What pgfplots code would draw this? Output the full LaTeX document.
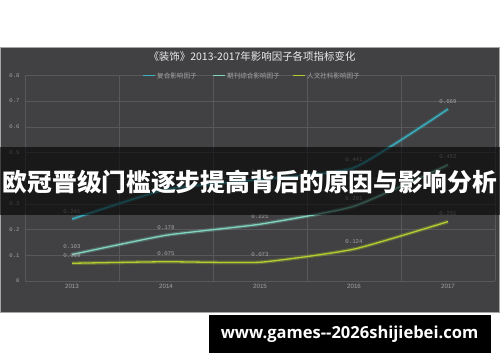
\documentclass[border=0pt]{standalone}
\usepackage{pgfplots}
\usepackage{pgfplotstable}
\pgfplotsset{compat=1.18}
\usepackage{fontspec}
\setmainfont{Liberation Sans}
\newfontfamily\cjk{Noto Sans CJK SC}
\newfontfamily\monof{Liberation Mono}
\newfontfamily\webf{Open Sans}
\definecolor{panel}{RGB}{65,64,66}
\definecolor{gridc}{RGB}{88,87,90}
\definecolor{labgray}{RGB}{165,165,165}
\definecolor{cA}{RGB}{56,178,192}
\definecolor{cB}{RGB}{130,214,192}
\definecolor{cC}{RGB}{178,206,48}
\pgfplotstableread{
x y lab
0 0.241 0.241
1 0.356 0.356
2 0.395 0.395
3 0.441 0.441
4 0.669 0.669
}\dataA
\pgfplotstableread{
x y lab
0 0.103 0.103
1 0.178 0.178
2 0.221 0.221
3 0.291 0.291
4 0.452 0.452
}\dataB
\pgfplotstableread{
x y lab
0 0.069 0.069
1 0.075 0.075
2 0.073 0.073
3 0.124 0.124
4 0.231 0.231
}\dataC
\begin{document}
\begin{tikzpicture}[x=1bp,y=1bp]
\fill[white] (0,0) rectangle (500,362);
\fill[panel] (0,49.5) rectangle (500,315);
\draw[gray!70,line width=0.8bp] (0.4,49.5) rectangle (499.6,315);
\begin{axis}[
  at={(25bp,81bp)}, anchor=south west,
  scale only axis, width=470bp, height=205.6bp,
  xmin=-0.5, xmax=4.5, ymin=0, ymax=0.8,
  axis line style={draw=none},
  xtick={0,1,2,3,4}, xticklabels={2013,2014,2015,2016,2017},
  minor xtick={-0.5,0.5,1.5,2.5,3.5,4.5},
  xminorgrids=true, ymajorgrids=true,
  ytick={0,0.1,0.2,0.3,0.4,0.5,0.6,0.7,0.8},
  yticklabels={0,0.1,0.2,0.3,0.4,0.5,0.6,0.7,0.8},
  major tick length=0, minor tick length=0,
  grid style={gridc, line width=0.6bp},
  minor grid style={gridc, line width=0.6bp},
  xticklabel style={font=\fontsize{6.2}{7}\selectfont, text=labgray},
  yticklabel style={font=\monof\fontsize{5.6}{6}\selectfont, text=labgray, xshift=-2bp},
  clip=false,
]
\addplot[draw=cA, line width=3.8bp, opacity=0.28, smooth, tension=0.3, forget plot] table[x=x,y=y] {\dataA};
\addplot[draw=cB, line width=3.8bp, opacity=0.28, smooth, tension=0.3, forget plot] table[x=x,y=y] {\dataB};
\addplot[draw=cC, line width=3.8bp, opacity=0.28, smooth, tension=0.3, forget plot] table[x=x,y=y] {\dataC};
\addplot[draw=cA, line width=1.3bp, smooth, tension=0.3, point meta=explicit symbolic,
  nodes near coords, nodes near coords style={font=\monof\fontsize{5.8}{6}\selectfont, text=labgray, anchor=south, yshift=2bp}]
  table[x=x,y=y,meta=lab] {\dataA};
\addplot[draw=cB, line width=1.3bp, smooth, tension=0.3, point meta=explicit symbolic,
  nodes near coords, nodes near coords style={font=\monof\fontsize{5.8}{6}\selectfont, text=labgray, anchor=south, yshift=2bp}]
  table[x=x,y=y,meta=lab] {\dataB};
\addplot[draw=cC, line width=1.3bp, smooth, tension=0.3, point meta=explicit symbolic,
  nodes near coords, nodes near coords style={font=\monof\fontsize{5.8}{6}\selectfont, text=labgray, anchor=south, yshift=2bp}]
  table[x=x,y=y,meta=lab] {\dataC};
\end{axis}
% legend
\draw[cA, line width=1.3bp] (143,286.5) -- (155,286.5);
\node[anchor=west, inner sep=0, text=labgray, font=\cjk\fontsize{6.6}{7}\selectfont] at (157,286.5) {复合影响因子};
\draw[cB, line width=1.3bp] (213,286.5) -- (225,286.5);
\node[anchor=west, inner sep=0, text=labgray, font=\cjk\fontsize{6.6}{7}\selectfont] at (227,286.5) {期刊综合影响因子};
\draw[cC, line width=1.3bp] (293,286.5) -- (305,286.5);
\node[anchor=west, inner sep=0, text=labgray, font=\cjk\fontsize{6.6}{7}\selectfont] at (307,286.5) {人文社科影响因子};
\node[font=\cjk\fontsize{10.5}{12}\selectfont, text=white!85!gray] at (252,305) {《装饰》2013-2017年影响因子各项指标变化};
\fill[black, opacity=0.6] (0,147.5) rectangle (500,215);
\node[font=\cjk\bfseries\fontsize{24.8}{26}\selectfont, inner sep=0, text=white] at (250,180) {欧冠晋级门槛逐步提高背后的原因与影响分析};
\fill[black] (209,9.3) rectangle (491,47);
\node[font=\webf\bfseries\fontsize{16.6}{18}\selectfont, inner sep=0, text=white] at (349.5,28) {www.games--2026shijiebei.com};
\end{tikzpicture}
\end{document}
